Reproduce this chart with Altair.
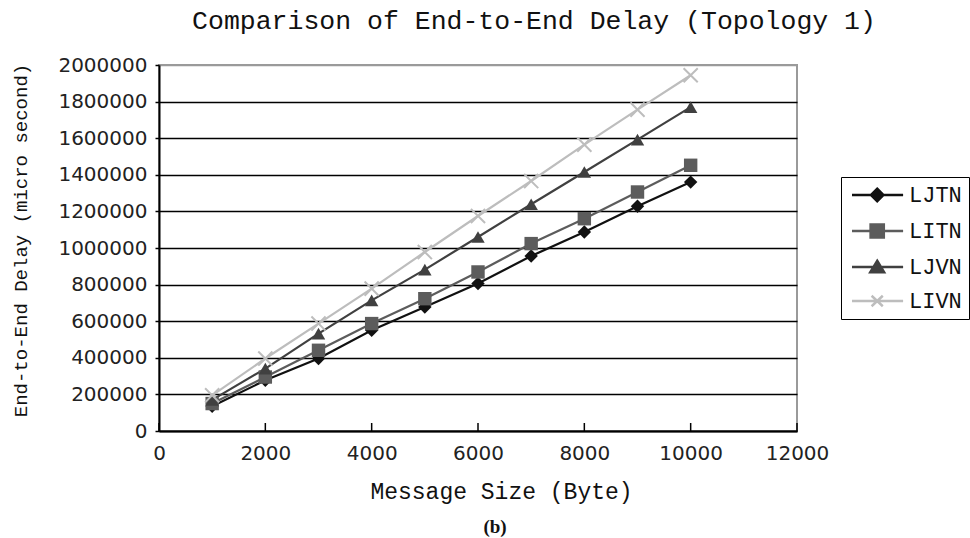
import altair as alt
import pandas as pd

# ---- data ----
sizes = [1000, 2000, 3000, 4000, 5000, 6000, 7000, 8000, 9000, 10000]
series_names = ["LJTN", "LITN", "LJVN", "LIVN"]
ljtn = [135000, 277000, 396000, 550000, 678000, 806000, 956000, 1087000, 1228000, 1360000]
litn = [150000, 295000, 441000, 587000, 723000, 869000, 1024000, 1160000, 1306000, 1452000]
ljvn = [170000, 341000, 532000, 714000, 882000, 1060000, 1239000, 1415000, 1592000, 1770000]
livn = [195000, 396000, 587000, 778000, 978000, 1175000, 1366000, 1565000, 1756000, 1944000]
x_ticks = [0, 2000, 4000, 6000, 8000, 10000, 12000]
y_ticks = [0, 200000, 400000, 600000, 800000, 1000000, 1200000, 1400000,
           1600000, 1800000, 2000000]

series_colors = ["#111111", "#5c5c5c", "#404040", "#bdbdbd"]
plot_shapes = ["diamond", "square", "triangle-up", "M-1,-1L1,1M-1,1L1,-1"]

# legend glyphs: a line segment with the series marker drawn in strokes
seg = "M-1,0L6.3,0"
legend_paths = [
    seg + "M2.6,-0.9L3.5,0L2.6,0.9L1.7,0Z"
    "M2.3,-0.6L2.9,-0.6M2.0,-0.3L3.2,-0.3M2.0,0.3L3.2,0.3M2.3,0.6L2.9,0.6",
    seg + "M1.65,-0.95L3.55,-0.95L3.55,0.95L1.65,0.95Z"
    "M1.65,-0.65L3.55,-0.65M1.65,-0.35L3.55,-0.35M1.65,0.35L3.55,0.35M1.65,0.65L3.55,0.65",
    seg + "M2.6,-0.9L3.6,0.75L1.6,0.75Z"
    "M2.42,-0.6L2.78,-0.6M2.24,-0.3L2.96,-0.3M1.87,0.3L3.33,0.3M1.72,0.55L3.48,0.55",
    seg + "M1.8,-0.75L3.4,0.75M1.8,0.75L3.4,-0.75",
]

rows = []
for name, vals in zip(series_names, [ljtn, litn, ljvn, livn]):
    for s, v in zip(sizes, vals):
        rows.append({"size": s, "delay": v, "series": name})
df = pd.DataFrame(rows)
ticks_df = pd.DataFrame({"tick": x_ticks})
caption_df = pd.DataFrame({"caption": ["(b)"]})
title_df = pd.DataFrame({"title": ["Comparison of End-to-End Delay (Topology 1)"]})

W, H = 638, 366

x_scale = alt.Scale(domain=[0, 12000], nice=False, zero=True)
y_scale = alt.Scale(domain=[0, 2000000], nice=False)
color_scale = alt.Scale(domain=series_names, range=series_colors)

x_axis = alt.Axis(
    values=x_ticks, format="d", grid=False, ticks=False, tickSize=0, tickCount=20,
    labelFont="DejaVu Sans", labelFontSize=20, labelColor="#222222",
    labelPadding=12, labelFlush=False, labelOverlap=False,
    domainColor="#000000", domainWidth=2,
    title="Message Size (Byte)", titleFont="Liberation Mono", titleFontSize=23,
    titleFontWeight="normal", titleColor="#111111",
    titleX=342, titleY=67, titleAlign="center", titleBaseline="alphabetic",
)
y_axis = alt.Axis(
    values=y_ticks, format="d", grid=True, tickCount=20,
    gridColor={"condition": {"test": "datum.value >= 2000000", "value": "#9a9a9a"},
               "value": "#000000"},
    gridWidth=1.6, gridOpacity=1,
    ticks=True, tickSize=4, tickColor="#000000", tickWidth=1.5,
    labelFont="DejaVu Sans", labelFontSize=20, labelColor="#222222",
    labelPadding=8, labelFlush=False, labelOverlap=False,
    domainColor="#000000", domainWidth=2,
    title="End-to-End Delay (micro second)", titleFont="Liberation Mono",
    titleFontSize=19, titleFontWeight="normal", titleColor="#111111",
    titleX=-139, titleY=175, titleAngle=270, titleAlign="center",
    titleBaseline="middle",
)

base = alt.Chart(df)

lines = base.mark_line(strokeWidth=2.2).encode(
    x=alt.X("size:Q", scale=x_scale, axis=x_axis),
    y=alt.Y("delay:Q", scale=y_scale, axis=y_axis),
    color=alt.Color("series:N", scale=color_scale, legend=None),
    detail="series:N",
)

# one marker layer per series, each with its own fixed marker shape
marker_layers = []
for name, shp in zip(series_names, plot_shapes):
    is_x = shp.startswith("M")
    marker_layers.append(
        base.transform_filter(alt.datum.series == name).mark_point(
            filled=not is_x, size=200 if is_x else 180, opacity=1,
            strokeWidth=2 if is_x else 1, shape=shp,
        ).encode(
            x="size:Q", y="delay:Q",
            color=alt.Color("series:N", scale=color_scale, legend=None),
        )
    )

# legend only: no visible marks, one legend entry per series
legend_layer = base.transform_filter("datum.series == 'none'").mark_point(
    size=196, filled=False
).encode(
    x="size:Q", y="delay:Q",
    stroke=alt.Stroke("series:N", scale=alt.Scale(domain=series_names, range=series_colors),
                      legend=alt.Legend(title=None)),
    shape=alt.Shape("series:N", scale=alt.Scale(domain=series_names, range=legend_paths),
                    legend=alt.Legend(title=None)),
)

x_tick_marks = alt.Chart(ticks_df).mark_rule(color="#000000", strokeWidth=1.5).encode(
    x=alt.X("tick:Q", scale=x_scale),
    y=alt.value(H),
    y2=alt.value(H - 8),
)

caption = alt.Chart(caption_df).mark_text(
    font="Liberation Serif", fontSize=19, fontWeight="bold", color="#111111",
    align="center", baseline="middle"
).encode(text="caption:N", x=alt.value(336), y=alt.value(462))

title_text = alt.Chart(title_df).mark_text(
    font="Liberation Mono", fontSize=26.5, color="#111111",
    align="center", baseline="alphabetic"
).encode(text="title:N", x=alt.value(375), y=alt.value(-36))

chart = alt.layer(
    lines, *marker_layers, legend_layer, x_tick_marks, caption, title_text
).resolve_scale(
    shape="independent", stroke="independent"
).properties(
    width=W, height=H,
    background="#ffffff",
    autosize=alt.AutoSizeParams(type="none"),
    padding={"left": 159, "top": 65, "right": 173, "bottom": 107},
).configure_view(
    stroke="#9a9a9a", strokeWidth=2
).configure_legend(
    orient="none", legendX=682, legendY=112, padding=7,
    strokeColor="#000000", fillColor="#ffffff",
    symbolSize=196, symbolStrokeWidth=2.4, symbolOpacity=1,
    symbolFillColor="transparent",
    labelFont="Liberation Mono", labelFontSize=22, labelColor="#111111",
    labelOffset=39, rowPadding=12, labelLimit=200,
)

chart.save("out.html", embed_options={"renderer": "svg", "actions": False})
